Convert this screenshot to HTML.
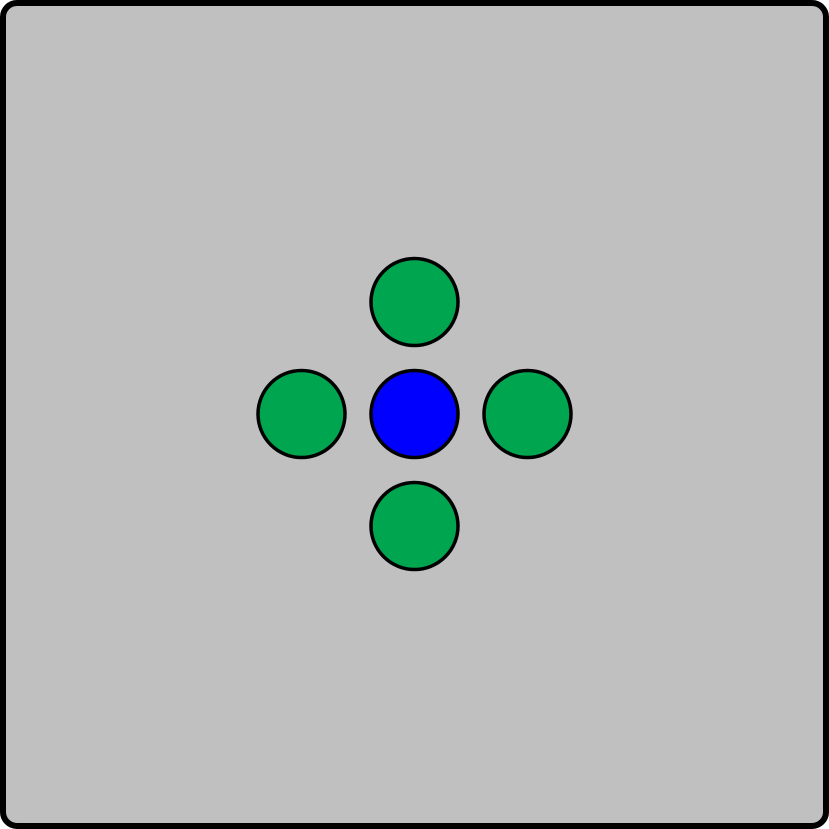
<!DOCTYPE html>
<html>
<head>
<meta charset="utf-8">
<style>
  html, body { margin: 0; padding: 0; background: #fff; }
  svg { display: block; }
</style>
</head>
<body>
<svg id="chart" width="829" height="829" viewBox="0 0 829 829">
  <rect x="3" y="3" width="823" height="823" rx="14" ry="14" fill="#c0c0c0" stroke="#000" stroke-width="6"></rect>
  <g id="marks"></g>
</svg>
<script>
// grid-unit coordinates of each disc relative to centre (y up)
const pointX = [0, 0, -1, 1, 0];
const pointY = [0, 1, 0, 0, -1];
const pointKind = ["center", "neighbor", "neighbor", "neighbor", "neighbor"];

const cx0 = 414.5, cy0 = 414, unitX = 113, unitY = 112, radius = 43.5;
const xScale = v => cx0 + v * unitX;
const yScale = v => cy0 - v * unitY;
const colors = { center: "#0000ff", neighbor: "#00a550" };
const g = document.getElementById('marks');
const NS = "http://www.w3.org/2000/svg";
for (let i = 0; i < pointX.length; i++) {
  const c = document.createElementNS(NS, 'circle');
  c.setAttribute('cx', xScale(pointX[i]));
  c.setAttribute('cy', yScale(pointY[i]));
  c.setAttribute('r', radius);
  c.setAttribute('fill', colors[pointKind[i]]);
  c.setAttribute('stroke', '#000');
  c.setAttribute('stroke-width', 3.5);
  
  
  g.appendChild(c);
}
</script>
</body>
</html>
